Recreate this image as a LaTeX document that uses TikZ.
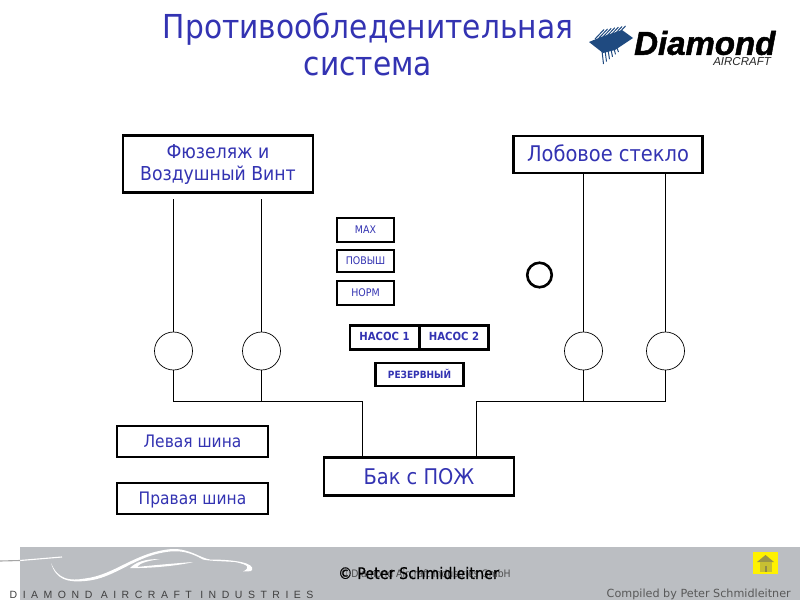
\documentclass[tikz,border=0pt]{standalone}
\usepackage{fontspec}
\setmainfont{DejaVu Sans}
\newfontfamily\cond{DejaVu Sans Condensed}
\newfontfamily\logof{Liberation Sans}
\definecolor{ink}{HTML}{3333B2}
\definecolor{band}{HTML}{BBBEC2}
\definecolor{logob}{HTML}{1F4A80}
\newcommand{\nudge}[2]{\raisebox{#1}[\height][\depth]{#2}}
\tikzset{
  bigbox/.style={draw=black,line width=2.2pt,fill=white,text=ink,align=center,inner sep=0pt},
  busbox/.style={draw=black,line width=1.5pt,fill=white,text=ink,align=center,inner sep=0pt,font=\cond\fontsize{17.2}{20}\selectfont},
  smallbox/.style={draw=black,line width=2.2pt,fill=white,text=ink,inner sep=0pt,font=\cond\fontsize{10.5}{12}\selectfont},
  pumpbox/.style={draw=black,line width=2.6pt,fill=white,text=ink,inner sep=0pt,font=\cond\bfseries\fontsize{11.2}{12}\selectfont},
  gauge/.style={circle,draw=black,line width=.7pt,fill=white,minimum size=38pt,inner sep=0pt},
  lamp/.style={circle,draw=black,line width=2.6pt,fill=white,minimum size=24.5pt,inner sep=0pt},
  pipe/.style={draw=black,line width=.7pt},
}
\begin{document}
\begin{tikzpicture}[x=1pt,y=-1pt]
\useasboundingbox (0,0) rectangle (800,600);
% footer band
\fill[band] (20,547) rectangle (800,600);
% car swoosh
\draw[white,line width=1.1pt] (20,560.5) -- (62,557);
\draw[gray!70,line width=1.1pt] (0,561) -- (20,560.5);
\fill[white] (51,563) .. controls (58,580) and (70,581) .. (85,578.5) .. controls (115,575) and (135,552) .. (172,549) .. controls (190,548.5) and (200,558) .. (210,559.5) .. controls (235,559.5) and (255,563) .. (252,570) .. controls (251,572) and (247,571) .. (243,571.5) .. controls (250,568) and (250,565) .. (235,562) .. controls (220,561) and (210,561) .. (203,559.5) .. controls (190,552) and (180,550.5) .. (170,551.5) .. controls (135,555) and (115,579) .. (85,581) .. controls (68,582.5) and (56,580) .. (51,563) -- cycle;
\fill[white] (130,568) .. controls (136,562) and (145,559) .. (160,559) .. controls (147,561) and (140,563) .. (137,567) .. controls (155,565) and (180,563) .. (193,562) .. controls (180,565.5) and (150,568.5) .. (130,568) -- cycle;
\node[anchor=west,inner sep=0pt,text=black!75] (brand) at (9.5,594.5) {\logof\fontsize{10.5}{12}\selectfont\addfontfeature{LetterSpace=52.5}DIAMOND AIRCRAFT INDUSTRIES};
% house
\node[fill=yellow,minimum width=25pt,minimum height=22pt,inner sep=0pt] (home) at (765.5,563) {};
\fill[black!45!yellow] (757,562) -- (765.5,555) -- (774,562) -- cycle;
\fill[black!25!yellow] (759.5,562) rectangle (771.5,571.5);
\fill[black!50!yellow] (764.5,566) rectangle (766.5,571.5);
% footer text
\node[anchor=west,inner sep=0pt,text=black!70] (gmbh) at (339,574) {\cond\fontsize{10.3}{13}\selectfont © Diamond Aircraft Industries GmbH};
\node[anchor=west,inner sep=0pt,text=black] (copy) at (338,573) {\cond\addfontfeature{FakeBold=.5}\fontsize{16}{18}\selectfont © Peter Schmidleitner};
\node[anchor=east,inner sep=0pt,text=black!65] (comp) at (791,594) {\fontsize{11.2}{12}\selectfont Compiled by Peter Schmidleitner};
% title
\node[align=center,inner sep=0pt,text=ink,font=\cond\fontsize{33}{37}\selectfont] (title) at (368,44) {Противообледенительная\\система};
% logo
\fill[logob] (589,42) -- (601,37) -- (622,30) -- (633,38) -- (615,50) -- (603,53) -- cycle;
\foreach \i in {0,...,6}{\draw[logob,line width=1pt] ({595+\i*3.6},{39-\i*.6}) -- ++(9,-9.5);}
\foreach \i in {0,...,5}{\draw[logob,line width=1pt] ({602+\i*3},{51-\i*.6}) -- ++(1.5,{13-\i*1.8});}
\node[anchor=west,inner sep=0pt] (logo) at (634,43) {\logof\bfseries\itshape\addfontfeature{FakeBold=1.5}\fontsize{33}{34}\selectfont Diamond};
\node[anchor=east,inner sep=0pt,text=black!85] (logo2) at (771,61.5) {\logof\itshape\fontsize{11.5}{13}\selectfont AIRCRAFT};
% boxes
\node[bigbox,minimum width=190pt,minimum height=57pt,font=\cond\fontsize{19.2}{22}\selectfont] (fus) at (218,164) {Фюзеляж и\\Воздушный Винт};
\node[bigbox,minimum width=189pt,minimum height=37pt,font=\cond\fontsize{21.6}{24}\selectfont] (wind) at (608,154.5) {\nudge{1.5pt}{Лобовое стекло}};
\node[bigbox,minimum width=190pt,minimum height=38pt,font=\cond\fontsize{21.6}{24}\selectfont] (tank) at (419,476.5) {Бак с ПОЖ};
\node[busbox,minimum width=151pt,minimum height=31pt] (lbus) at (192.5,441.5) {Левая шина};
\node[busbox,minimum width=151pt,minimum height=31pt] (rbus) at (192.5,498.5) {\nudge{-1.5pt}{Правая шина}};
\node[smallbox,minimum width=57pt,minimum height=24pt] (max) at (365.5,230) {\nudge{.8pt}{MAX}};
\node[smallbox,minimum width=57pt,minimum height=22pt] (pov) at (365.5,261) {ПОВЫШ};
\node[smallbox,minimum width=57pt,minimum height=24pt] (norm) at (365.5,293) {\nudge{.8pt}{НОРМ}};
\node[pumpbox,minimum width=69pt,minimum height=24pt] (p1) at (384.5,337.5) {\nudge{1pt}{НАСОС 1}};
\node[pumpbox,minimum width=69pt,minimum height=24pt] (p2) at (454,337.5) {\nudge{1pt}{НАСОС 2}};
\node[pumpbox,minimum width=88pt,minimum height=23pt,line width=2.2pt,font=\cond\bfseries\fontsize{10}{12}\selectfont] (res) at (419.5,374.5) {\nudge{.5pt}{РЕЗЕРВНЫЙ}};
\node[lamp] (lamp) at (539.5,275) {};
% gauges
\node[gauge] (g1) at (173.5,351) {};
\node[gauge] (g2) at (261.5,351) {};
\node[gauge] (g3) at (583.5,351) {};
\node[gauge] (g4) at (665.5,351) {};
% pipes
\coordinate (s1) at (173.5,199);
\coordinate (s2) at (261.5,199);
\coordinate (j1) at (173.5,401.5);
\coordinate (j2) at (261.5,401.5);
\coordinate (j3) at (362.5,401.5);
\coordinate (j4) at (476.5,401.5);
\coordinate (j5) at (583.5,401.5);
\coordinate (j6) at (665.5,401.5);
\draw[pipe] (s1) -- (g1);
\draw[pipe] (s2) -- (g2);
\draw[pipe] (g3.north |- wind.south) -- (g3);
\draw[pipe] (g4.north |- wind.south) -- (g4);
\draw[pipe] (g1) -- (j1) -- (j3) -- (j3 |- tank.north);
\draw[pipe] (g2) -- (j2);
\draw[pipe] (g4) -- (j6) -- (j4) -- (j4 |- tank.north);
\draw[pipe] (g3) -- (j5);
\end{tikzpicture}
\end{document}
